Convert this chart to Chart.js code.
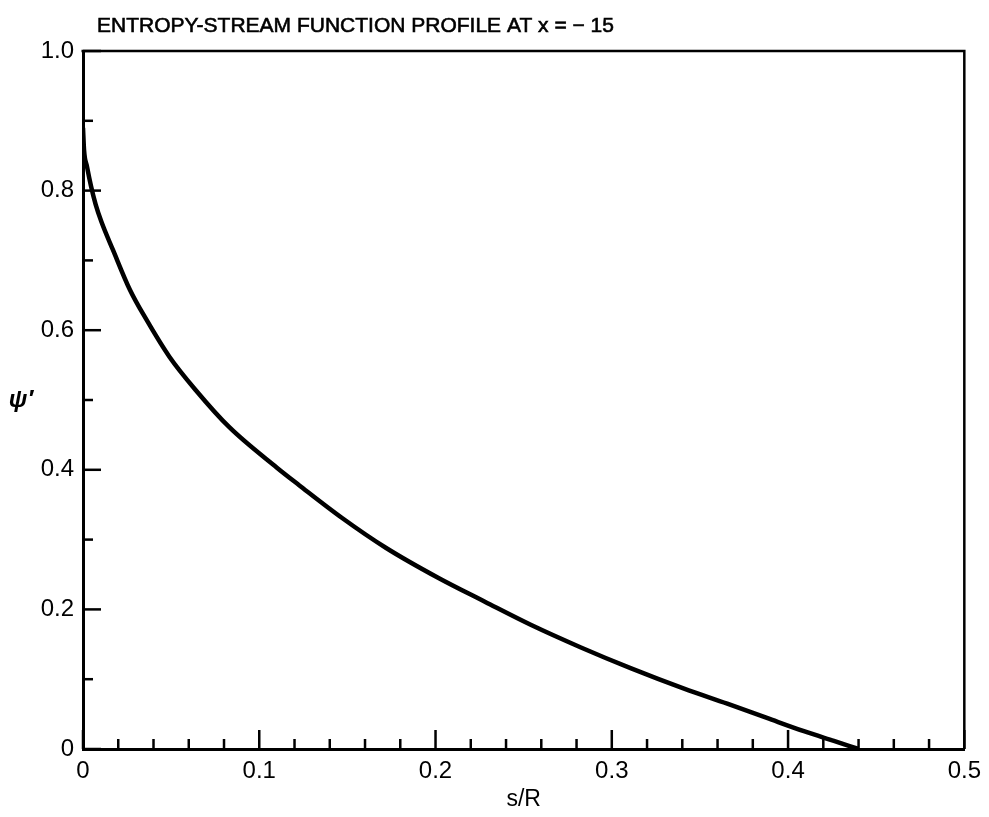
<!DOCTYPE html>
<html>
<head>
<meta charset="utf-8">
<script src="https://cdn.jsdelivr.net/npm/chart.js@4.4.0/dist/chart.umd.min.js"></script>
<style>
html,body{margin:0;padding:0;background:#fff;}
#wrap{width:989px;height:817px;}
</style>
</head>
<body>
<div id="wrap"><canvas id="c" width="989" height="817"></canvas></div>
<script>
// ---- data ----
const titleText = 'ENTROPY-STREAM FUNCTION PROFILE AT x = \u2212 15';
const xAxisLabel = 's/R';
const yAxisLabel = '\u03C8\u2032';
const sOverR   = [0, 0.0006, 0.0023, 0.0045, 0.0072, 0.0105, 0.017, 0.0266, 0.036, 0.049, 0.064, 0.083, 0.110, 0.1226, 0.147, 0.172, 0.2017, 0.228, 0.254, 0.2825, 0.311, 0.341, 0.3655, 0.388, 0.409, 0.426, 0.440];
const psiPrime = [0.89, 0.858, 0.834, 0.807, 0.780, 0.755, 0.715, 0.658, 0.615, 0.562, 0.514, 0.461, 0.403, 0.378, 0.331, 0.288, 0.245, 0.211, 0.178, 0.1455, 0.1155, 0.0865, 0.065, 0.0445, 0.0255, 0.0115, 0.0];
const xTickLabels = ['0', '0.1', '0.2', '0.3', '0.4', '0.5'];
const yTickLabels = ['0', '0.2', '0.4', '0.6', '0.8', '1.0'];

const points = sOverR.map((s, i) => ({x: s, y: psiPrime[i]}));
const FONT = '"Liberation Sans", Arial, Helvetica, sans-serif';

const decor = {
  id: 'decor',
  afterDraw(chart) {
    const ctx = chart.ctx;
    const a = chart.chartArea;
    const xs = chart.scales.x, ys = chart.scales.y;
    ctx.save();
    ctx.strokeStyle = '#000';
    ctx.lineCap = 'butt';
    // frame top & right
    ctx.lineWidth = 2.5;
    ctx.beginPath();
    ctx.moveTo(a.left - 1.5, a.top);
    ctx.lineTo(a.right, a.top);
    ctx.lineTo(a.right, a.bottom);
    ctx.stroke();
    // inside ticks x
    for (let i = 0; i <= 25; i++) {
      const v = i * 0.02;
      const px = xs.getPixelForValue(v);
      const len = (i % 5 === 0) ? 19 : 10;
      ctx.beginPath();
      ctx.moveTo(px, a.bottom);
      ctx.lineTo(px, a.bottom - len);
      ctx.stroke();
    }
    // inside ticks y
    for (let i = 0; i <= 10; i++) {
      const v = i * 0.1;
      const py = ys.getPixelForValue(v);
      const len = (i % 2 === 0) ? 18 : 10;
      ctx.beginPath();
      ctx.moveTo(a.left, py);
      ctx.lineTo(a.left + len, py);
      ctx.stroke();
    }
    // title
    ctx.fillStyle = '#000';
    ctx.font = '21px ' + FONT;
    ctx.textAlign = 'left';
    ctx.textBaseline = 'alphabetic';
    ctx.lineWidth = 0.6;
    ctx.fillText(titleText, a.left + 14, 32);
    ctx.strokeText(titleText, a.left + 14, 32);
    // y axis label (upright)
    ctx.font = 'bold italic 24px ' + FONT;
    ctx.textAlign = 'center';
    ctx.textBaseline = 'middle';
    ctx.fillText(yAxisLabel, 21, ys.getPixelForValue(0.5));
    ctx.restore();
  }
};

new Chart(document.getElementById('c'), {
  type: 'line',
  data: {
    datasets: [{
      data: points,
      borderColor: '#000',
      borderWidth: 4.5,
      pointRadius: 0,
      fill: false,
      tension: 0.4,
      cubicInterpolationMode: 'monotone'
    }]
  },
  options: {
    responsive: false,
    animation: false,
    devicePixelRatio: 1,
    layout: {padding: {top: 51, right: 21, left: 0, bottom: 0}},
    plugins: {legend: {display: false}, tooltip: {enabled: false}, title: {display: false}},
    scales: {
      x: {
        type: 'linear',
        min: 0, max: 0.5,
        grid: {display: false, drawTicks: false},
        border: {display: true, color: '#000', width: 3},
        ticks: {
          stepSize: 0.1,
          padding: 8,
          color: '#000',
          font: {family: FONT, size: 24},
          maxRotation: 0,
          callback: (v, i) => xTickLabels[i]
        },
        title: {display: true, text: xAxisLabel, color: '#000', font: {family: FONT, size: 23}, padding: {top: 0, bottom: 4}},
        afterFit: s => { s.height = 68; }
      },
      y: {
        type: 'linear',
        min: 0, max: 1,
        grid: {display: false, drawTicks: false},
        border: {display: true, color: '#000', width: 3},
        ticks: {
          stepSize: 0.2,
          padding: 9,
          color: '#000',
          font: {family: FONT, size: 24},
          callback: (v, i) => yTickLabels[i]
        },
        afterFit: s => { s.width = 83; }
      }
    }
  },
  plugins: [decor]
});
</script>
</body>
</html>
